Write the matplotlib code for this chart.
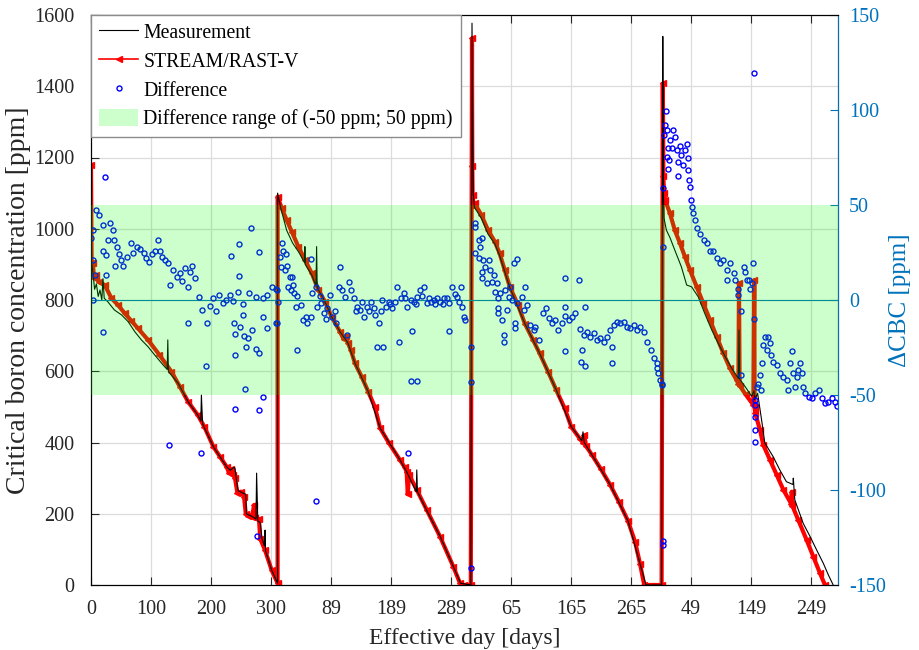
import numpy as np
import matplotlib
matplotlib.use("Agg")
import matplotlib.pyplot as plt
from matplotlib.lines import Line2D
from matplotlib.patches import Patch

plt.rcParams['font.family'] = ['Liberation Serif', 'DejaVu Serif']
plt.rcParams['axes.unicode_minus'] = False

# cycle start positions on the joined axis (effective days)
cycle_offsets = [0, 311, 635, 951]

# (effective day in cycle, ppm) - measurement
meas_c1 = [(0, 1100), (1, 905), (3, 880), (6, 830), (9, 845), (12, 810), (15, 828), (18, 800), (20, 860),
           (22, 805), (28, 795), (39, 772), (51, 758), (62, 739), (73, 711), (84, 688), (95, 669), (106, 646),
           (120, 618), (127, 605), (128, 688), (129, 600), (131, 595), (145, 567), (162, 514), (178, 477),
           (183, 460), (184, 533), (186, 452), (204, 388), (226, 332), (232, 322), (238, 330), (240, 328),
           (242, 300), (245, 265), (253, 258), (258, 255), (259, 200), (270, 191), (275, 185), (276, 314),
           (278, 180), (282, 175), (285, 130), (289, 110), (290, 154), (291, 95), (301, 42), (311, 5)]
meas_c2 = [(0, 1100), (5, 1060), (15, 996), (25, 960), (35, 935), (45, 905), (45.5, 950), (46, 900), (57, 870),
           (64, 840), (65, 950), (66, 835), (79, 795), (90, 753), (104, 711), (117, 680), (129, 622), (151, 543),
           (171, 440), (204, 351), (215, 318), (231, 262), (232, 323), (233, 262), (248, 211), (271, 136),
           (293, 51), (305, 5), (322, 0)]
meas_c3 = [(0, 1577), (2, 1100), (4, 1060), (15.5, 1030), (26.7, 985), (38, 958), (46, 925), (63, 835),
           (88, 734), (112.8, 650), (140.5, 547), (165.5, 444), (183, 405), (185, 430), (187, 400), (200, 365),
           (230, 282), (260, 180), (280, 60), (290, 0), (316, 0)]
meas_c4 = [(2, 1540), (3, 1100), (4, 1030), (8, 996), (14, 975), (22, 940), (33, 893), (41.8, 842), (50, 837),
           (61, 809), (72, 762), (83.5, 716), (94.5, 678), (106, 641), (117, 608), (128, 580), (129, 716),
           (130, 578), (140, 555), (150, 530), (154, 545), (155, 520), (160, 538), (166.7, 463), (172, 399),
           (186, 360), (197, 323), (208, 290), (219, 282), (219.5, 300), (222, 239), (236, 173), (247.5, 136),
           (258.5, 98), (269.5, 61), (278, 28), (286, 0)]

# (effective day in cycle, ppm) - STREAM/RAST-V
sim_c1 = [(0, 1179), (1, 905), (3, 905), (5, 862), (9, 870), (14, 850), (23, 842), (34, 805), (45, 786),
          (56, 763), (67, 742), (78, 721), (95, 688), (114, 646), (134, 599), (148, 557), (162, 514), (178, 477),
          (189, 444), (204, 388), (215, 360), (226, 332), (230, 315), (233, 325), (237, 310), (240, 300),
          (244, 258), (250, 262), (255, 248), (258, 200), (262, 195), (268, 190), (272, 225), (274, 188),
          (280, 185), (282, 130), (290, 98), (301, 42), (311, 5)]
sim_c2 = [(0, 1090), (7, 1057), (15, 1025), (23.5, 992), (34.5, 950), (45.7, 912), (57, 875), (68, 828),
          (79, 795), (90, 753), (104, 711), (110, 690), (114, 700), (117, 680), (122, 660), (129, 622),
          (140, 585), (151, 543), (162, 500), (171, 440), (185, 400), (204, 351), (212, 330), (215, 318),
          (217, 255), (219, 310), (232, 267), (248.5, 211), (270.7, 136), (293, 51), (304, 5), (310, 0), (322, 0)]
sim_c3 = [(0, 1535), (0.5, 1176), (1, 1095), (3, 1063), (4.4, 1071), (15.5, 1039), (26.7, 996), (38, 964),
          (46, 931), (54.5, 884), (63, 837), (76.7, 786), (88, 734), (101.7, 688), (112.8, 650), (126.7, 599),
          (140.5, 547), (154.5, 496), (165.5, 444), (180, 410), (185, 400), (187, 420), (190, 390), (200, 365),
          (215, 325), (230, 282), (245, 233), (260, 180), (272, 120), (280, 60), (287, 0), (316, 0)]
sim_c4 = [(2, 1408), (3, 1147), (4, 1100), (5.7, 1081), (14, 1043), (22, 996), (30.7, 959), (39, 921),
          (47.3, 884), (58.5, 837), (69.5, 791), (80.7, 744), (91.8, 697), (103, 650), (114, 608), (125, 575),
          (128, 565), (129, 848), (130, 560), (140, 535), (153, 505), (154.5, 856), (155, 500), (156, 482),
          (164, 435), (169.5, 393), (180.7, 351), (191.8, 309), (203, 267), (216, 228), (217, 262), (218, 222),
          (228, 182), (241.8, 126), (252.8, 80), (264, 33), (272.3, 0)]

# (effective day in cycle, ppm) - difference
diff_c1 = [(0.5, 32.6), (3, 36.8), (8, 47.4), (14, 44.7), (20, 39.5), (31, 40.5), (37, 36.8), (28, 31.6),
           (39, 31.6), (20, 26), (25, 23.7), (3, 21), (6, 13), (3, 0), (20, -16.7), (25, 13), (23, 64.7),
           (44, 28), (40, 18), (54, 18), (60, 22.8), (47, 24), (50, 21), (66, 29.8), (77, 28), (88, 24.6),
           (97, 20.2), (106, 26), (111, 31.6), (119, 22.8), (128, 19.5), (70, 25), (82, 27), (92, 22), (101, 24),
           (115, 26), (124, 21), (137, 15.8), (143, 12.3), (132, 7.9), (157, 17), (168, 18), (174, 11.6),
           (162, 7), (148, 14), (152, 10), (165, 15), (180, 1.8), (185, -5.3), (194, -12.3), (192, -34.7),
           (162, -12.3), (203, 1), (214, 2.6), (220, -1.6), (231, 2.6), (236, -0.5), (245, 4.4), (253, -2),
           (264, 3.9), (275, 1.7), (286, 0.8), (294, 2.6), (302, 7), (309, 6), (198, -3), (208, -6), (225, 0),
           (238, -12), (240, -18), (253, -8), (255, -19), (259, -24.6), (269, -15.8), (275, -26), (280, -28),
           (286, -9), (294, -14.7), (240, -29), (262, -20), (248, -14), (247, 29.5), (247, 12.6), (267, 38),
           (280, 25.4), (234, 23.3), (257, -46.8), (240, -57.4), (280, -58), (287, -51), (130, -76.3),
           (183, -80.4), (276, -124), (309, -12), (310, 5.3), (310, -12)]
diff_c2 = [(1, -1), (4, 22.8), (6, 17.5), (8, 29.8), (9, 26), (14, 24.4), (15, 18), (12, 15.8), (18, 7),
           (20, 12), (23.6, 12), (26, 7.9), (22, 5.3), (28, 3.5), (33, 2), (31, -3.5), (39, -2.6), (42, -10.5),
           (47, -8.8), (49, -12), (55, -8.8), (33, -26.3), (55, 21.4), (58, 3.5), (64, 6.7), (66, -3.5),
           (72, -1.8), (77, -7), (83, -4.4), (88, 2.6), (91, -8.8), (97, -12.3), (104, 17.5), (102, 7),
           (108, 5.3), (113, 1.8), (119, 9.6), (122, 5.3), (127, 0.8), (133, -3.5), (138, -5.3), (144, -8.8),
           (149, -3.5), (155, -0.9), (163, -8), (169, -12.3), (174, 0), (180, -3.5), (185, -0.9), (191, -4.4),
           (199, 7), (205, 0.8), (210, 3.5), (216, -3.5), (222, 0), (227, -0.9), (233, 1.8), (238, 5.3),
           (244, 7), (249, -1.8), (255, -0.9), (260, 0), (266, 0.8), (271, -0.9), (277, 0.8), (285, -1.8),
           (291, 7), (299, 1.8), (305, 7), (308, -3.5), (311, -8.8), (313, -10.5), (70, 2), (80, -10),
           (95, -6), (130, -6), (141, -1), (152, -6), (160, -4), (172, -6), (188, -2), (196, -1), (213, 1),
           (230, -2), (241, 2), (252, 1), (263, -2), (275, -2), (282, 1), (295, 3), (302, -1), (115, -18.4),
           (165, -24.6), (202, -22), (224, -16.3), (285, -16.3), (223, -42.6), (64, -106), (176, -24.6),
           (217, -80.4), (232, -42.6), (323, -43.3), (323, -24.6), (323, -141)]
diff_c3 = [(5.5, 40.4), (5.5, 38.3), (11, 31.6), (16.6, 32.5), (13.9, 28), (5.5, 24.6), (11, 21.9), (19, 21),
           (27.8, 21), (22, 17.5), (16.6, 15), (30.5, 15.8), (36, 13.2), (16.6, 11.4), (25, 8.8), (33, 9.6),
           (41.7, 8.8), (39, 4.4), (47, 3.5), (44, 0.9), (55.8, 5.3), (64, 7), (70, 19.3), (75, 21.4),
           (61, 1.8), (66.7, 0), (75, -1.8), (83, 1.8), (89, 6.8), (91.7, -2.6), (86, -5.3), (58, -5.3),
           (50, -10.5), (52.8, -18.4), (54, -21.9), (72, -12.3), (72, -14.9), (44, -4.4), (44, -7), (97, -13),
           (105, -14), (111, -21), (102.8, -16), (119, -7), (123, -4.4), (127.8, -9.6), (133, -12.3),
           (139, -10.5), (144, -16), (150, -12.3), (155.5, -8.3), (161, -10.5), (166.7, -8.8), (172, -7),
           (155.5, 11.4), (177.8, 10.5), (189, -3.9), (155.5, -3.9), (155.5, -26.7), (180.6, -15), (186, -18.4),
           (191.7, -16.7), (197, -19.3), (203, -17.5), (208, -21), (214, -20), (219.7, -21.9), (225, -19.3),
           (230.6, -15.8), (236, -13.2), (242, -11.4), (247, -12.3), (253, -11.4), (258.6, -14), (264, -14.9),
           (269.7, -13.2), (275, -15.8), (280.8, -14), (286, -16.7), (292, -21.9), (297.5, -26.3), (303, -30.7),
           (307.8, -33.3), (308.6, -36), (310.6, -38.6), (314, -42), (316, -44), (317, -44.7), (183, -26.3),
           (182, -32.5), (188, -34.7), (234, -33.3), (234, -24.6)]
diff_c4 = [(2, 58.8), (2, 28), (2, -127), (2, -129), (6.8, 99.6), (5.7, 92), (8.5, 89.5), (4.5, 87),
           (19.5, 89.5), (14, 84), (22, 86), (16.7, 80), (11, 80), (8.5, 75.4), (12.5, 73.6), (25, 79),
           (30.6, 81), (33, 76.3), (39, 79), (41.7, 81.9), (44.5, 74.6), (36, 71), (27.8, 72.8), (44.5, 68.4),
           (27.8, 65.3), (11, 68.8), (45.6, 63), (47, 59.6), (49, 52.6), (50, 49), (53, 45.6), (56, 42),
           (58.5, 37.7), (64, 35), (70, 31.6), (75, 29.8), (81, 26), (86, 26), (92, 22), (97.5, 19.3),
           (103, 21), (108.6, 15.8), (114, 19.3), (120, 14), (122.5, 10.5), (108.6, 10.5), (128, 6),
           (127, 2.6), (136.7, 17.5), (139, 15), (145, 10.5), (150.5, 8.8), (147.8, 6), (142, 10.5),
           (153, 19.3), (132, -6), (132, -39.5), (154, -10), (158.5, -45.6), (161, -44), (164, -39.5),
           (165.5, -47.4), (167, -33), (169, -23.7), (172, -19.3), (178, -19.3), (180.6, -22.8), (175, -26.3),
           (183, -29), (186, -32.5), (192, -34), (197, -38.6), (203, -40.4), (208.5, -42), (211, -47.4),
           (214, -33), (217, -27), (219.7, -38.6), (222.5, -45.6), (225, -40.4), (228, -37), (231, -33),
           (233.6, -38.6), (236, -45.6), (239, -49), (245, -50.8), (250, -51.8), (256, -49), (261.7, -47.4),
           (267, -51.8), (272.8, -54.4), (278, -53.5), (284, -51.8), (289.5, -53.5), (292, -56),
           (154.5, 119.3), (155.6, -61.4), (155.6, -68.4), (155.6, -74.6), (155.6, -55.3), (155.6, -52.6)]

xtick_pos = [0, 100, 200, 300, 400, 500, 600, 700, 800, 900, 1000, 1100, 1200]
xtick_labels = ['0', '100', '200', '300', '89', '189', '289', '65', '165', '265', '49', '149', '249']


def join(cycles):
    xs, ys = [], []
    for off, cyc in zip(cycle_offsets, cycles):
        for d, v in cyc:
            xs.append(off + d)
            ys.append(v)
    return np.array(xs), np.array(ys)


mx, my = join([meas_c1, meas_c2, meas_c3, meas_c4])
sx, sy = join([sim_c1, sim_c2, sim_c3, sim_c4])
dx, dy = join([diff_c1, diff_c2, diff_c3, diff_c4])

blue = '#0072BD'
dark = '#262626'
fig = plt.figure(figsize=(9.19, 6.5), dpi=100)
ax1 = fig.add_axes([91 / 919, 65 / 650, 747 / 919, 570 / 650])
ax2 = ax1.twinx()

ax1.plot(mx, my, color='black', lw=0.8, zorder=3)
ax1.plot(sx, sy, color='red', lw=3.0, marker='<', ms=5, zorder=2)
ax1.set_xlim(0, 1245)
ax1.set_ylim(0, 1600)
ax1.set_yticks(np.arange(0, 1601, 200))
ax1.set_xticks(xtick_pos)
ax1.set_xticklabels(xtick_labels)
ax1.grid(True, color='#dcdcdc', lw=0.9)
ax1.set_axisbelow(True)
ax1.tick_params(direction='in', length=6, labelsize=14.5, top=True, colors=dark)
ax1.tick_params(axis='y', pad=12)
ax1.tick_params(axis='x', pad=11)
ax1.set_xlabel('Effective day [days]', fontsize=17, color=dark, labelpad=6)
ax1.set_ylabel('Critical boron concentration [ppm]', fontsize=20, color=dark, labelpad=2)

ax2.axhline(0, color=blue, lw=0.8, zorder=1)
ax2.plot(dx, dy, ls='none', marker='o', ms=3.6, mfc='none', mec='blue', mew=1.0, zorder=2)
ax2.axhspan(-50, 50, color=(0, 1, 0), alpha=0.2, lw=0, zorder=4)
ax2.set_ylim(-150, 150)
ax2.set_yticks(np.arange(-150, 151, 50))
ax2.tick_params(direction='in', length=6, labelsize=14.5, colors=blue, pad=8)
ax2.spines['right'].set_color(blue)
ax2.set_ylabel('\u0394CBC [ppm]', fontsize=18, color=blue, labelpad=2)

handles = [Line2D([], [], color='black', lw=0.8),
           Line2D([], [], color='red', lw=1.2, marker='<', ms=5),
           Line2D([], [], ls='none', marker='o', ms=3.6, mfc='none', mec='blue', mew=1.0),
           Patch(facecolor=(0.8, 1.0, 0.8), edgecolor='none')]
labels = ['Measurement', 'STREAM/RAST-V', 'Difference', 'Difference range of (-50 ppm; 50 ppm)']
leg = ax2.legend(handles, labels, loc='upper left', bbox_to_anchor=(0, 1), borderaxespad=0,
                 fontsize=14.2, fancybox=False, framealpha=1, edgecolor='#8c8c8c',
                 handlelength=2.0, labelspacing=0.45, borderpad=0.4, handletextpad=0.25,
                 handleheight=0.9)
leg.set_zorder(10)

fig.savefig('out.png', dpi=100)
